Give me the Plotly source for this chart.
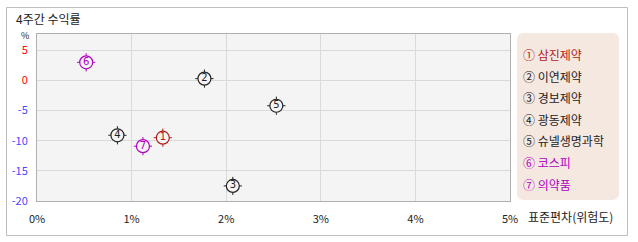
import plotly.graph_objects as go

names = ["삼진제약", "이연제약", "경보제약", "광동제약", "슈넬생명과학", "코스피", "의약품"]
risk = [1.33, 1.77, 2.07, 0.85, 2.53, 0.52, 1.12]
ret = [-9.5, 0.3, -17.5, -9.1, -4.2, 3.0, -10.9]
colors = ["#b01a1a", "#222222", "#222222", "#222222", "#222222", "#b000c0", "#b000c0"]
circled = ["①", "②", "③", "④", "⑤", "⑥", "⑦"]
x_ticks = [0, 1, 2, 3, 4, 5]
x_labels = ["0%", "1%", "2%", "3%", "4%", "5%"]
y_ticks = [5, 0, -5, -10, -15, -20]

W, H = 638, 242
L, R, T, B = 37, 510, 34, 201
FONT = "Noto Sans CJK KR"

def px(x):
    return (x - L) / (R - L)

def py(y):
    return (B - y) / (B - T)

fig = go.Figure()
digits = [str(i + 1) for i in range(len(names))]
fig.add_trace(go.Scatter(
    x=risk, y=ret, mode="markers",
    marker=dict(symbol="cross-thin-open", size=13, color=colors, line=dict(color=colors, width=1)),
    hoverinfo="skip", showlegend=False))
fig.add_trace(go.Scatter(
    x=risk, y=ret, mode="markers+text", text=digits,
    textposition="middle center",
    textfont=dict(family="DejaVu Sans", size=10, color=colors),
    marker=dict(symbol="circle", size=13, color="#f4f4f4", line=dict(color=colors, width=1.2)),
    hoverinfo="skip", showlegend=False))

ytext = []
for v in y_ticks:
    c = "#ff0000" if v >= 0 else "#4646ff"
    ytext.append(f"<span style='color:{c}'>{v}</span>")

fig.update_layout(
    width=W, height=H,
    margin=dict(l=L, r=W - R, t=T, b=H - B),
    paper_bgcolor="white", plot_bgcolor="#f4f4f4",
    font=dict(family=FONT, size=11, color="#222"),
    xaxis=dict(range=[0, 5], tickvals=x_ticks, ticktext=x_labels,
               showgrid=True, gridcolor="#d9d9d9", gridwidth=1,
               showline=True, linecolor="#b0b0b0", linewidth=1, mirror=True,
               zeroline=False, ticks="", ticklabelstandoff=8,
               tickfont=dict(size=11, color="#222")),
    yaxis=dict(range=[-20, 7.7], tickvals=y_ticks, ticktext=ytext,
               showgrid=True, gridcolor="#d9d9d9", gridwidth=1,
               showline=True, linecolor="#b0b0b0", linewidth=1, mirror=True,
               zeroline=False, ticks="", ticklabelstandoff=6,
               tickfont=dict(size=11)),
)

# outer frame
fig.add_shape(type="rect", xref="paper", yref="paper",
              x0=px(6.5), x1=px(627.5), y0=py(7.5), y1=py(235.5),
              line=dict(color="#bdbdbd", width=1), layer="below")

# legend box (rounded)
x0, x1, y0, y1, r = 517, 619, 33, 200, 7
path = (f"M {px(x0 + r)} {py(y0)} L {px(x1 - r)} {py(y0)} "
        f"Q {px(x1)} {py(y0)} {px(x1)} {py(y0 + r)} L {px(x1)} {py(y1 - r)} "
        f"Q {px(x1)} {py(y1)} {px(x1 - r)} {py(y1)} L {px(x0 + r)} {py(y1)} "
        f"Q {px(x0)} {py(y1)} {px(x0)} {py(y1 - r)} L {px(x0)} {py(y0 + r)} "
        f"Q {px(x0)} {py(y0)} {px(x0 + r)} {py(y0)} Z")
fig.add_shape(type="path", xref="paper", yref="paper", path=path,
              fillcolor="#f5e8e1", line=dict(width=0), layer="below")

for i, (n, c, s) in enumerate(zip(names, colors, circled)):
    fig.add_annotation(xref="paper", yref="paper", x=px(521), y=py(54.5 + i * 21.6),
                       xanchor="left", yanchor="middle", showarrow=False,
                       text=f"{s} {n}", font=dict(family=FONT, size=12, color=c))

fig.add_annotation(xref="paper", yref="paper", x=px(15), y=py(28),
                   xanchor="left", yanchor="bottom", showarrow=False, borderpad=0,
                   text="4주간 수익률", font=dict(family=FONT, size=12, color="#222"))
fig.add_annotation(xref="paper", yref="paper", x=px(30), y=py(28.5),
                   xanchor="right", yanchor="top", showarrow=False, borderpad=0,
                   text="%", font=dict(family=FONT, size=9, color="#222"))
fig.add_annotation(xref="paper", yref="paper", x=px(526), y=py(216),
                   xanchor="left", yanchor="middle", showarrow=False,
                   text="표준편차(위험도)", font=dict(family=FONT, size=12, color="#222"))

fig.write_html("out.html")
